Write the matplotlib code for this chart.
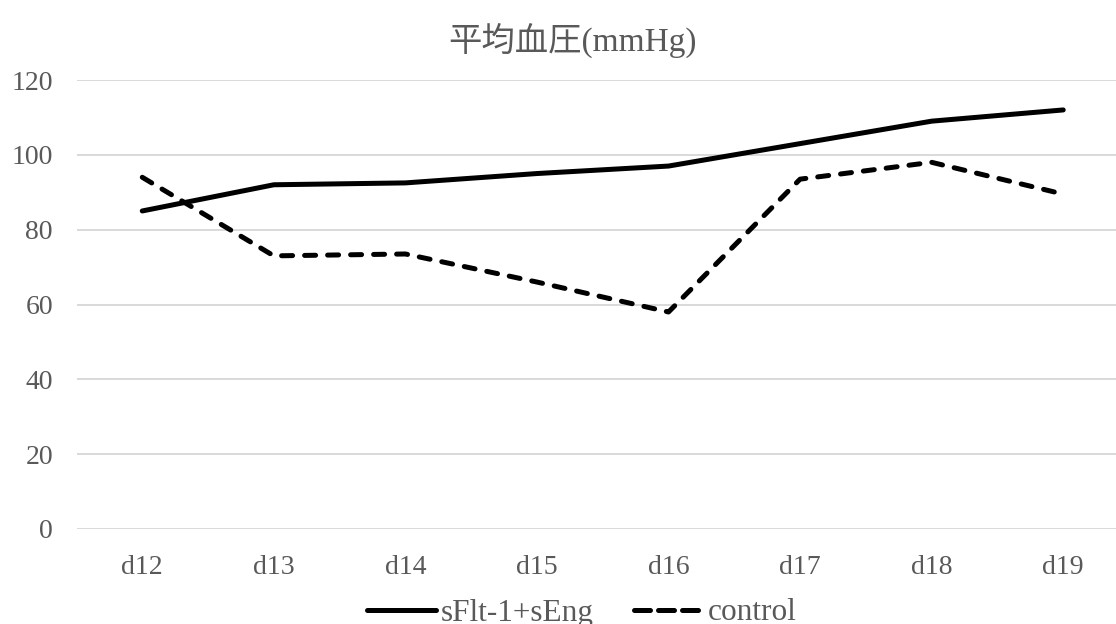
import matplotlib.pyplot as plt
from matplotlib.lines import Line2D

plt.rcParams['font.family'] = ['Liberation Serif', 'Noto Sans CJK JP', 'DejaVu Sans']

# Mean blood pressure per day
days = ['d12', 'd13', 'd14', 'd15', 'd16', 'd17', 'd18', 'd19']
treated = [85, 92, 92.5, 95, 97, 103, 109, 112]
control = [94, 73, 73.5, 66, 58, 93.5, 98, 89.5]
series_names = ['sFlt-1+sEng', 'control']

grey = '#595959'

fig = plt.figure(figsize=(11.16, 6.24), dpi=100, facecolor='w')
# category axis runs a bit past the right edge of the figure
ax = fig.add_axes([76.5 / 1116, 95 / 624, (1129 - 76.5) / 1116, 449 / 624])

x = range(len(days))
ax.plot(x, treated, color='k', lw=3.6, solid_capstyle='round',
        solid_joinstyle='round')
ax.plot(x, control, color='k', lw=3.6, ls=(0, (2.2, 2.4)),
        dash_capstyle='round', dash_joinstyle='round')

ax.set_xlim(-0.5, len(days) - 0.5)
ax.set_ylim(0, 120)
ax.set_yticks(range(0, 121, 20))
ax.set_xticks(list(x))
ax.set_xticklabels(days)
ax.grid(axis='y', color='#d9d9d9', lw=1.4)
ax.set_axisbelow(True)
ax.tick_params(length=0, labelsize=20, colors=grey)
ax.tick_params(axis='y', pad=17)
ax.tick_params(axis='x', pad=19)
for spine in ax.spines.values():
    spine.set_visible(False)

fig.text(573 / 1116, 1 - 40 / 624, '平均血圧(mmHg)', ha='center', va='center',
         fontsize=24, color=grey)

# legend keys: tighter dashes than the plotted line
handles = [
    Line2D([], [], color='k', lw=3.6, solid_capstyle='round'),
    Line2D([], [], color='k', lw=3.6, ls=(0, (3.2, 1.6)),
           dash_capstyle='round'),
]
leg = fig.legend(handles, series_names, loc='center',
                 bbox_to_anchor=(582 / 1116, 1 - 613 / 624),
                 ncol=2, frameon=False, fontsize=22.5, handlelength=2.2,
                 handletextpad=0.15, columnspacing=1.3)
for t in leg.get_texts():
    t.set_color(grey)

fig.savefig('out.png', dpi=100)
